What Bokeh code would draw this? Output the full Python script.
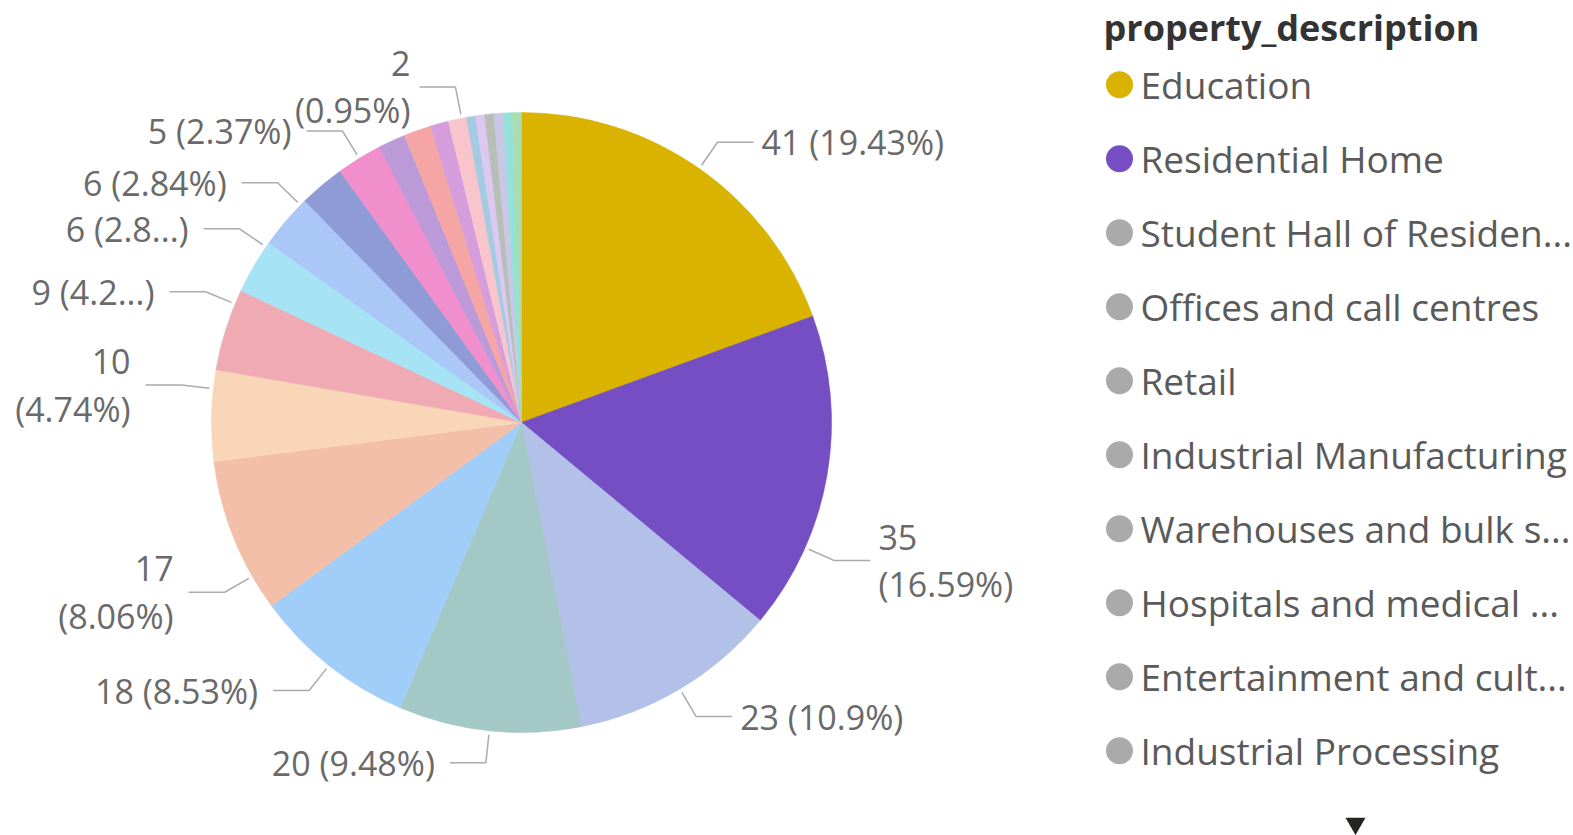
import math
from bokeh.plotting import figure
from bokeh.models import Range1d, ColumnDataSource
from bokeh.core.properties import value
from bokeh.embed import file_html
from bokeh.resources import INLINE

# ---------------- data ----------------
slice_values = [41, 35, 23, 20, 18, 17, 10, 9, 6, 6, 5, 5, 3, 3, 2, 2, 1, 1, 1, 1, 1, 1]
slice_colors = ["#D9B300", "#744EC2", "#B3C0E8", "#A3C8C6", "#A0CEF9", "#F4BFA8",
                "#FAD6B9", "#EFAAB3", "#A6E3F4", "#AAC7F7", "#8E9BD6", "#F08FCB",
                "#BC9AD9", "#F5A5A3", "#D59DDC", "#F9C5CD", "#A4CBE2", "#DCC8F0",
                "#B7BEB6", "#C9C7E6", "#96E0DA", "#A8DDB2"]
legend_title = "property_description"
legend_labels = ["Education", "Residential Home", "Student Hall of Residen...",
                 "Offices and call centres", "Retail", "Industrial Manufacturing",
                 "Warehouses and bulk s...", "Hospitals and medical ...",
                 "Entertainment and cult...", "Industrial Processing"]
legend_colors = ["#D9B300", "#744EC2"] + ["#AAAAAA"] * 8

# which slices carry a data label, and how the label is laid out
# (mode: "line" one line, "wrap" two lines, "trunc" truncated percentage)
label_modes = {0: "line", 1: "wrap", 2: "line", 3: "line", 4: "line", 5: "wrap",
               6: "wrap", 7: "trunc", 8: "trunc", 9: "line", 11: "line", 15: "wrap"}
label_nudge_deg = {1: 14, 5: -8, 6: 5, 7: 5, 8: 4.2, 9: 4, 15: 0.8}
label_gap_override = {15: 9}

# ---------------- layout (image pixel space) ----------------
W, H = 1573, 835
CX, CY, R = 521, 422, 310


def X(ix):
    return ix


def Y(iy):
    return H - iy


total = sum(slice_values)
p = figure(width=W, height=H, x_range=Range1d(0, W), y_range=Range1d(0, H),
           output_backend="svg", toolbar_location=None, min_border=0,
           x_axis_type=None, y_axis_type=None, background_fill_color="white",
           border_fill_color="white", outline_line_color=None)
p.grid.visible = False

# pie slices (clockwise from 12 o'clock)
starts, ends, mids = [], [], []
cum = 0
for v in slice_values:
    a0 = cum / total * 2 * math.pi
    a1 = (cum + v) / total * 2 * math.pi
    starts.append(math.pi / 2 - a1)
    ends.append(math.pi / 2 - a0)
    mids.append(math.degrees((a0 + a1) / 2))
    cum += v

src = ColumnDataSource(dict(x=[X(CX)] * len(slice_values), y=[Y(CY)] * len(slice_values),
                            start=starts, end=ends, color=slice_colors))
p.wedge(x="x", y="y", radius=R, start_angle="start", end_angle="end", source=src,
        fill_color="color", line_color="color", line_width=0.6)


def pct_str(v):
    s = f"{v / total * 100:.2f}".rstrip("0").rstrip(".")
    return s


FONT = value("Open Sans")
LBL_SIZE = "34px"
LBL_COLOR = "#6A6A6A"
lead_xs, lead_ys = [], []
for i, mode in label_modes.items():
    v = slice_values[i]
    ang = math.radians(mids[i] + label_nudge_deg.get(i, 0))
    sx, sy = math.sin(ang), -math.cos(ang)
    p0 = (CX + (R + 4) * sx, CY + (R + 4) * sy)
    p1 = (CX + (R + 32) * sx, CY + (R + 32) * sy)
    right = sx >= 0
    p2 = (p1[0] + (36 if right else -36), p1[1])
    lead_xs.append([X(p0[0]), X(p1[0]), X(p2[0])])
    lead_ys.append([Y(p0[1]), Y(p1[1]), Y(p2[1])])
    gap = label_gap_override.get(i, 8 if right else 15)
    tx = p2[0] + (gap if right else -gap)
    pc = pct_str(v)
    if mode == "line":
        lines = [f"{v} ({pc}%)"]
    elif mode == "trunc":
        lines = [f"{v} ({pc[:3]}...)"]
    else:
        lines = [f"{v}", f"({pc}%)"]
    n = len(lines)
    for k, t in enumerate(lines):
        ty = p2[1] + (k - (n - 1) / 2) * 47
        p.text(x=[X(tx)], y=[Y(ty)], text=[t], text_font=FONT, text_font_size=LBL_SIZE,
               text_color=LBL_COLOR, text_align="left" if right else "right",
               text_baseline="middle")

p.multi_line(xs=lead_xs, ys=lead_ys, line_color="#ABABAB", line_width=1.5)

# legend
LEG_X, LEG_Y0, LEG_STEP = 1119, 84.3, 74.0
p.text(x=[X(1103)], y=[Y(27)], text=[legend_title], text_font=FONT, text_font_size="36px",
       text_font_style="bold", text_color="#333333", text_align="left", text_baseline="middle")
leg_y = [Y(LEG_Y0 + k * LEG_STEP) for k in range(len(legend_labels))]
p.scatter(x=[X(LEG_X)] * len(legend_labels), y=leg_y, size=27, marker="circle",
          fill_color=legend_colors, line_color=None)
p.text(x=[X(LEG_X + 21)] * len(legend_labels), y=leg_y, text=legend_labels, text_font=FONT,
       text_font_size="37px", text_color="#5A5A5A", text_align="left", text_baseline="middle")
p.scatter(x=[X(1355)], y=[Y(823)], size=20, marker="inverted_triangle",
          fill_color="#252423", line_color=None)

open("out.html", "w").write(file_html(p, INLINE))
